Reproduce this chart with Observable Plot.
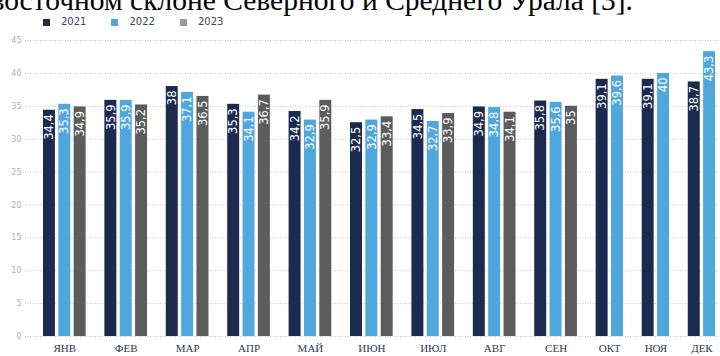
<!DOCTYPE html>
<html><head><meta charset="utf-8">
<script src="https://cdn.jsdelivr.net/npm/d3@7"></script>
<script src="https://cdn.jsdelivr.net/npm/@observablehq/plot@0.6"></script>
<style>
html,body{margin:0;padding:0;width:720px;height:356px;overflow:hidden;background:#fff;}
#wrap{position:relative;width:720px;height:356px;overflow:hidden;}
#chart{position:absolute;left:0;top:0;}
#head{position:absolute;width:1000px;right:87px;top:-10.3px;height:20px;text-align:right;font-family:"Liberation Serif","Times New Roman",serif;font-size:29.5px;line-height:20px;white-space:nowrap;color:#000;z-index:2;}
#legend{position:absolute;left:43px;top:15px;display:flex;align-items:center;z-index:2;font-family:"DejaVu Sans",sans-serif;font-size:10px;line-height:10px;color:#3e465c;height:14px;}
#legend .it{display:flex;align-items:center;margin-right:25px;}
#legend .sw{width:7px;height:7px;margin-right:11px;}
</style></head>
<body>
<div id="wrap">
  <div id="chart"></div>
  <div id="head">восточном склоне Северного и Среднего Урала [3].</div>
  <div id="legend"></div>
</div>
<script>
const months = ["ЯНВ","ФЕВ","МАР","АПР","МАЙ","ИЮН","ИЮЛ","АВГ","СЕН","ОКТ","НОЯ","ДЕК"];
const years = ["2021","2022","2023"];
const v2021 = [34.4,35.9,38,35.3,34.2,32.5,34.5,34.9,35.8,39.1,39.1,38.7];
const v2022 = [35.3,35.9,37.1,34.1,32.9,32.9,32.7,34.8,35.6,39.6,40,43.3];
const v2023 = [34.9,35.2,36.5,36.7,35.9,33.4,33.9,34.1,35,null,null,null];
const yTicks = [0,5,10,15,20,25,30,35,40,45];
const barColors = ["#1b2a4f","#4fa7dd","#5c5c5c"];
const legendColors = ["#1b2a4f","#4fa7dd","#9a9a9a"];

const series = [v2021, v2022, v2023];
const BW = 0.78;
const bars = [];
const groups = [];
let slot = 0;
months.forEach((m, i) => {
  const first = slot;
  years.forEach((yr, k) => {
    const v = series[k][i];
    if (v == null) return;
    bars.push({month: m, year: yr, value: v, s0: slot, s1: slot + BW, sc: slot + BW / 2,
      label: String(v).replace(".", ",")});
    slot++;
  });
  groups.push({month: m, c: (first + slot - 1 + BW) / 2});
  slot++; // spacer between groups
});

const chart = Plot.plot({
  width: 720, height: 370,
  marginTop: 40, marginBottom: 34, marginLeft: 25, marginRight: 0,
  style: {fontFamily: "DejaVu Sans", background: "transparent", overflow: "visible"},
  x: {domain: [-1.17, 44.1], axis: null},
  y: {domain: [0, 45], axis: null},
  color: {domain: years, range: barColors},
  marks: [
    Plot.gridY(yTicks, {stroke: "#c8c8c8", strokeOpacity: 1, strokeDasharray: "1,1.5"}),
    Plot.axisY({ticks: yTicks, tickSize: 0, tickPadding: 4, fontSize: 8, color: "#b0b0b0", label: null}),
    Plot.rect(bars, {x1: "s0", x2: "s1", y1: 0, y2: "value", fill: "year"}),
    Plot.text(bars, {x: "sc", y: "value", text: "label", rotate: -90, textAnchor: "end", dy: 4,
      fill: "white", fontSize: 11.5, fontFamily: "DejaVu Sans"}),
    Plot.text(groups, {x: "c", text: "month", frameAnchor: "bottom", lineAnchor: "top", dy: 8,
      fill: "#2c3a52", fontSize: 11, fontFamily: "Liberation Serif"})
  ]
});
document.getElementById("chart").appendChild(chart);

const lg = document.getElementById("legend");
years.forEach((yr, k) => {
  const it = document.createElement("div");
  it.className = "it";
  const sw = document.createElement("div");
  sw.className = "sw";
  sw.style.background = legendColors[k];
  const t = document.createElement("span");
  t.textContent = yr;
  it.appendChild(sw); it.appendChild(t);
  lg.appendChild(it);
});
</script>
</body></html>
